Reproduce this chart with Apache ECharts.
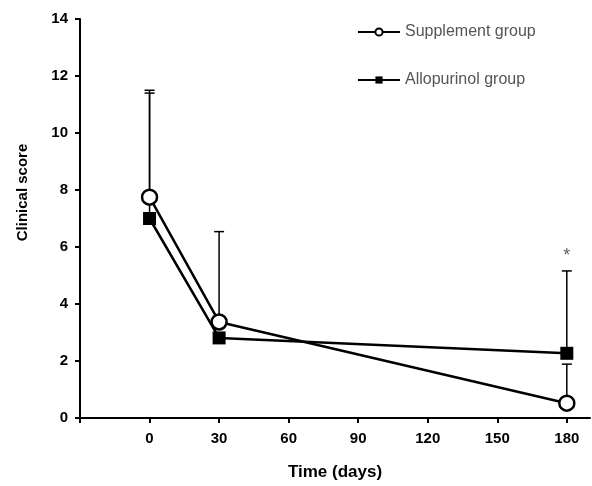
<!DOCTYPE html>
<html lang="en" style="height: 100%">
<head>
  <meta charset="utf-8">
  <script src="https://cdn.jsdelivr.net/npm/echarts/dist/echarts.min.js"></script>
</head>
<body style="height: 100%; margin: 0; background: #fff">
  <div id="container" style="width: 592px; height: 486px"></div>

  <script type="text/javascript">
    // days after start
    var days = [0, 30, 180];
    var supplement = [7.75, 3.37, 0.52];
    var supplementUpper = [11.5, 6.54, 1.89];
    var allopurinol = [7.0, 2.81, 2.27];
    var allopurinolUpper = [11.4, null, 5.16];
    // significance mark
    var starDay = 180;
    var starValue = 5.7;

    var dom = document.getElementById('container');
    var myChart = echarts.init(dom, null, { renderer: 'canvas' });

    function pairs(xs, ys) {
      return xs.map(function (x, i) { return [x, ys[i]]; });
    }

    function errorData(xs, lo, hi) {
      var out = [];
      for (var i = 0; i < xs.length; i++) {
        if (hi[i] != null) out.push([xs[i], lo[i], hi[i]]);
      }
      return out;
    }

    function renderError(params, api) {
      var x = api.value(0);
      var p0 = api.coord([x, api.value(1)]);
      var p1 = api.coord([x, api.value(2)]);
      var half = 5;
      var style = { stroke: '#000', lineWidth: 1.5 };
      return {
        type: 'group',
        children: [
          { type: 'line', shape: { x1: p0[0], y1: p0[1], x2: p1[0], y2: p1[1] }, style: style },
          { type: 'line', shape: { x1: p1[0] - half, y1: p1[1], x2: p1[0] + half, y2: p1[1] }, style: style }
        ]
      };
    }

    var option = {
      animation: false,
      textStyle: { fontFamily: 'Liberation Sans, Arial, sans-serif' },
      grid: { left: 80, right: 2, top: 19, bottom: 62 },
      legend: {
        orient: 'vertical',
        left: 352,
        top: 19,
        itemGap: 32,
        itemWidth: 42,
        itemHeight: 9,
        textStyle: { color: '#555', fontSize: 16 },
        data: ['Supplement group', 'Allopurinol group']
      },
      xAxis: {
        type: 'value',
        min: -30,
        max: 190,
        interval: 30,
        name: 'Time (days)',
        nameLocation: 'middle',
        nameGap: 46,
        nameTextStyle: { color: '#000', fontSize: 17, fontWeight: 'bold' },
        axisLine: { onZero: false, lineStyle: { color: '#000', width: 2 } },
        axisTick: { length: 5, lineStyle: { color: '#000', width: 2 } },
        axisLabel: {
          color: '#000', fontSize: 15, fontWeight: 'bold', margin: 13,
          showMaxLabel: false,
          formatter: function (v) { return v < 0 ? '' : v; }
        },
        splitLine: { show: false }
      },
      yAxis: {
        type: 'value',
        min: 0,
        max: 14,
        interval: 2,
        name: 'Clinical score',
        nameLocation: 'middle',
        nameGap: 50,
        nameTextStyle: { color: '#000', fontSize: 15, fontWeight: 'bold', padding: [0, 0, 0, 52] },
        axisLine: { show: true, onZero: false, lineStyle: { color: '#000', width: 2 } },
        axisTick: { show: true, length: 5, lineStyle: { color: '#000', width: 2 } },
        axisLabel: { color: '#000', fontSize: 15, fontWeight: 'bold', margin: 12 },
        splitLine: { show: false }
      },
      series: [
        {
          type: 'custom',
          renderItem: renderError,
          data: errorData(days, supplement, supplementUpper),
          z: 1
        },
        {
          type: 'custom',
          renderItem: renderError,
          data: errorData(days, allopurinol, allopurinolUpper),
          z: 1
        },
        {
          name: 'Allopurinol group',
          type: 'line',
          data: pairs(days, allopurinol),
          symbol: 'rect',
          symbolSize: 13,
          lineStyle: { color: '#000', width: 2.5 },
          itemStyle: { color: '#000', borderColor: '#000', borderWidth: 0 },
          z: 3
        },
        {
          name: 'Supplement group',
          type: 'line',
          data: pairs(days, supplement),
          symbol: 'circle',
          symbolSize: 15,
          showAllSymbol: true,
          lineStyle: { color: '#000', width: 2.5 },
          itemStyle: { color: '#fff', borderColor: '#000', borderWidth: 2.5 },
          z: 4
        },
        {
          type: 'scatter',
          data: [[starDay, starValue]],
          symbolSize: 1,
          itemStyle: { color: 'transparent' },
          label: {
            show: true,
            position: 'inside',
            formatter: '*',
            color: '#333',
            fontSize: 18
          },
          silent: true
        }
      ]
    };

    myChart.setOption(option);
    window.addEventListener('resize', myChart.resize);
  </script>
</body>
</html>
